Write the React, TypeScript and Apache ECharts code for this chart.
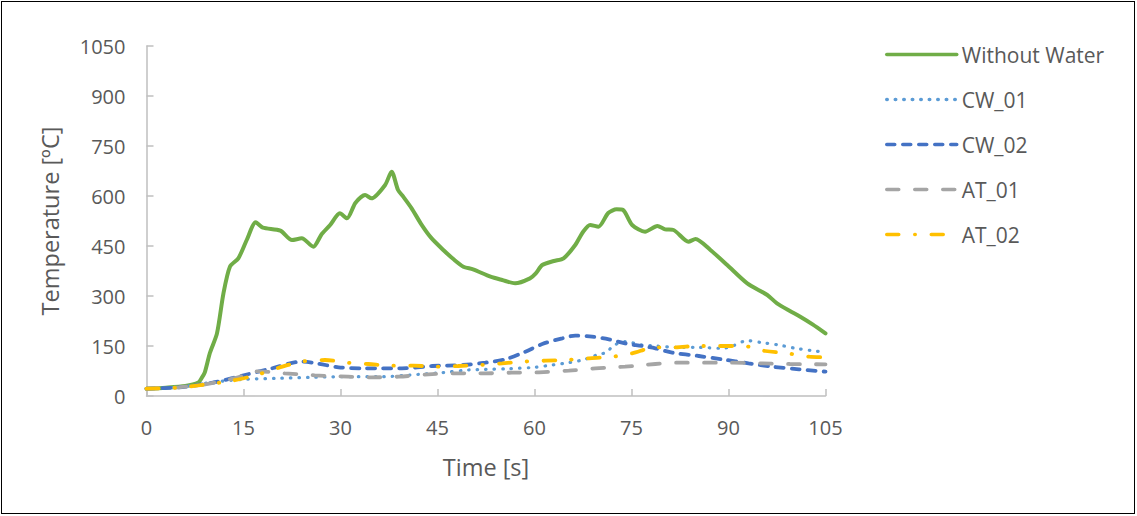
import React, { useEffect, useRef } from "react";
import * as echarts from "echarts";

const xTicks = { min: 0, max: 105, interval: 15 };
const yTicks = { min: 0, max: 1050, interval: 150 };

const seriesNames = ["Without Water", "CW_01", "CW_02", "AT_01", "AT_02"];

const woT = [0, 3, 6, 8, 8.5, 9, 9.8, 10.9, 11.9, 12.9, 14.2, 15.5, 16.9, 18, 20.7, 22.5, 24, 25.8, 27.1, 28.4, 29.9, 31, 32.3, 33.8, 34.8, 36.9, 37.9, 38.9, 39.7, 41, 42.5, 44, 45.9, 47.5, 49, 50.5, 53.2, 55, 57, 59.3, 60.2, 61.2, 63, 64.5, 66.3, 67.5, 68.6, 69.9, 71.4, 72.7, 73.7, 75.1, 77.1, 79, 80.2, 81.5, 83.8, 84.9, 87.2, 89.8, 92.9, 96, 97.5, 99.5, 101.1, 103, 105];
const woV = [22, 25, 30, 40, 53, 70, 129, 188, 308, 388, 413, 468, 521, 505, 496, 468, 473, 448, 486, 513, 548, 533, 579, 603, 593, 633, 673, 618, 598, 563, 515, 475, 438, 410, 388, 380, 358, 348, 338, 353, 368, 393, 405, 413, 453, 492, 513, 508, 549, 560, 558, 513, 493, 510, 500, 498, 463, 471, 438, 393, 338, 303, 278, 255, 238, 215, 188];

const cw1T = [0, 5, 8, 11, 15, 20, 25.5, 31, 36.4, 40.8, 45.7, 49.8, 52.4, 56, 60, 62.7, 65.3, 67.8, 69.9, 71.2, 72.1, 74, 76.6, 78.7, 81.8, 85.4, 89, 90.6, 92.9, 95.2, 97.8, 100.4, 103, 105];
const cw1V = [22, 26, 35, 43, 50, 53, 56, 58, 58, 63, 70, 78, 80, 82, 86, 93, 100, 110, 125, 131, 150, 163, 153, 150, 146, 146, 143, 150, 166, 160, 153, 143, 136, 131];

const cw2T = [0, 5, 8, 11, 15.2, 19.4, 24, 26.6, 29.7, 33.8, 39.5, 44.2, 48.9, 52.4, 55.5, 58.6, 61.2, 64.3, 66.3, 68.9, 71.5, 74, 76.6, 78.7, 81.3, 85.4, 89, 93.1, 96.8, 100.9, 105];
const cw2V = [22, 26, 33, 43, 63, 83, 103, 97, 86, 83, 83, 90, 93, 100, 110, 133, 156, 173, 181, 178, 170, 158, 150, 143, 130, 120, 110, 98, 88, 80, 73];

const at1T = [0, 5, 8, 11, 14, 17.3, 21.4, 26, 31.2, 34.8, 39, 43.6, 47.7, 52.4, 56.5, 60.7, 65.3, 69.4, 74, 78.7, 82.2, 86.4, 90.6, 95.2, 99.5, 105];
const at1V = [22, 26, 32, 42, 55, 74, 68, 62, 58, 56, 58, 65, 68, 68, 70, 71, 76, 83, 88, 96, 100, 100, 100, 98, 96, 95];

const at2T = [0, 5, 8, 13, 17, 20.5, 24, 27.6, 31, 34.3, 37.9, 41.3, 44.6, 48.2, 51.6, 55, 58.3, 61.7, 65, 68.4, 72.1, 75.1, 78.7, 81.8, 85, 88.7, 92.2, 95.7, 99.1, 102.5, 105];
const at2V = [22, 25, 32, 45, 63, 85, 103, 108, 100, 96, 91, 91, 88, 90, 93, 98, 103, 106, 108, 113, 118, 128, 146, 146, 150, 150, 150, 135, 128, 118, 116];

const pairs = (t: number[], v: number[]) => t.map((x, i) => [x, v[i]]);

const FONT = "'Open Sans', 'Noto Sans', sans-serif";
const TXT = "#595959";
const AXIS = "#BFBFBF";

export default function App() {
  const ref = useRef<HTMLDivElement>(null);
  useEffect(() => {
    if (!ref.current) return;
    const chart = echarts.init(ref.current, undefined, { renderer: "svg" });
    const mk = (name: string, data: number[][], color: string, type: any, width: number, smooth: number) => ({
      name,
      type: "line",
      data,
      smooth,
      symbol: "none",
      showSymbol: false,
      lineStyle: { color, width, type, cap: "round" },
      itemStyle: { color },
    });
    chart.setOption({
      animation: false,
      textStyle: { fontFamily: FONT },
      grid: { left: 146.5, top: 46, width: 679, height: 350 },
      xAxis: {
        type: "value",
        min: xTicks.min,
        max: xTicks.max,
        interval: xTicks.interval,
        name: "Time [s]",
        nameLocation: "middle",
        nameGap: 59,
        nameTextStyle: { color: TXT, fontSize: 23.5, fontFamily: FONT },
        axisLine: { show: true, lineStyle: { color: AXIS, width: 1.5 } },
        axisTick: { show: true, inside: true, length: 7, lineStyle: { color: AXIS, width: 1.5 } },
        axisLabel: { color: TXT, fontSize: 20, margin: 21, fontFamily: FONT },
        splitLine: { show: false },
      },
      yAxis: {
        type: "value",
        min: yTicks.min,
        max: yTicks.max,
        interval: yTicks.interval,
        name: "Temperature [ºC]",
        nameLocation: "middle",
        nameGap: 85,
        nameTextStyle: { color: TXT, fontSize: 23.5, fontFamily: FONT },
        axisLine: { show: true, lineStyle: { color: AXIS, width: 1.5 } },
        axisTick: { show: true, inside: true, length: 7, lineStyle: { color: AXIS, width: 1.5 } },
        axisLabel: { color: TXT, fontSize: 20, margin: 21, fontFamily: FONT, formatter: (v: number) => String(v) },
        splitLine: { show: false },
      },
      legend: {
        orient: "vertical",
        left: 880,
        top: 39,
        itemWidth: 70,
        itemHeight: 20,
        itemGap: 24,
        data: seriesNames,
        itemStyle: { color: "transparent", borderColor: "transparent", borderWidth: 0, opacity: 0 },
        lineStyle: { width: 3.5, cap: "round" },
        textStyle: { color: TXT, fontSize: 21, fontFamily: FONT },
      },
      series: [
        mk(seriesNames[0], pairs(woT, woV), "#70AD47", "solid", 4, 0.25),
        mk(seriesNames[1], pairs(cw1T, cw1V), "#5B9BD5", [0.5, 8], 3.2, 0.3),
        mk(seriesNames[2], pairs(cw2T, cw2V), "#4472C4", [8, 8], 3.8, 0.3),
        mk(seriesNames[3], pairs(at1T, at1V), "#A5A5A5", [12, 16], 3.8, 0.3),
        mk(seriesNames[4], pairs(at2T, at2V), "#FFC000", [12, 16, 0.5, 16], 3.8, 0.3),
      ],
    });
    return () => chart.dispose();
  }, []);
  return (
    <div style={{ position: "fixed", left: 0, top: 0, width: 1137, height: 516, background: "#fff" }}>
      <div
        style={{
          position: "absolute",
          left: 1,
          top: 1,
          width: 1134,
          height: 513,
          border: "1.5px solid #000",
          boxSizing: "border-box",
        }}
      />
      <div ref={ref} style={{ position: "absolute", left: 0, top: 0, width: 1137, height: 516 }} />
    </div>
  );
}
